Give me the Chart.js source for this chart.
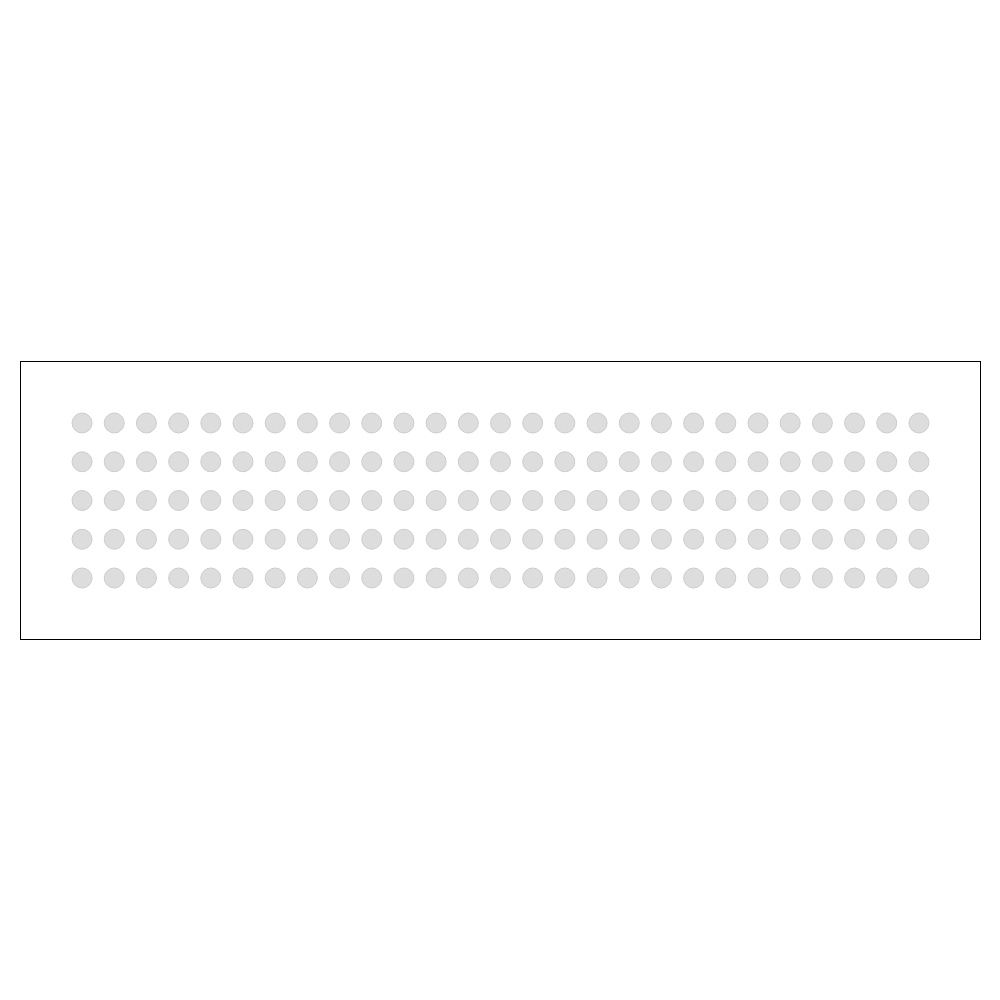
<!DOCTYPE html>
<html>
<head>
<meta charset="utf-8">
<script src="https://cdn.jsdelivr.net/npm/chart.js@4"></script>
<style>
  html, body { margin: 0; padding: 0; background: #ffffff; }
  body { width: 1000px; height: 1000px; position: relative; }
  #frame { position: absolute; left: 20px; top: 361px; width: 961px; height: 279px; border: 1px solid #000; box-sizing: border-box; }
  #frame canvas { display: block; }
</style>
</head>
<body>
<div id="frame"><canvas id="c"></canvas></div>
<script>
const columns = [1,2,3,4,5,6,7,8,9,10,11,12,13,14,15,16,17,18,19,20,21,22,23,24,25,26,27];
const rows = [1,2,3,4,5];

const points = [];
rows.forEach(r => columns.forEach(c => points.push({ x: c, y: r })));

new Chart(document.getElementById('c'), {
  type: 'scatter',
  data: {
    datasets: [{
      data: points,
      pointRadius: 10,
      pointHoverRadius: 10,
      pointBackgroundColor: '#dddddd',
      pointBorderColor: '#cccccc',
      pointBorderWidth: 1,
      clip: false
    }]
  },
  options: {
    responsive: true,
    maintainAspectRatio: false,
    animation: false,
    layout: { padding: 0, autoPadding: false },
    plugins: { legend: { display: false }, tooltip: { enabled: false } },
    scales: {
      x: { display: false, min: -0.897, max: 28.897 },
      y: { display: false, min: -0.574, max: 6.574, reverse: true }
    }
  }
});
</script>
</body>
</html>
